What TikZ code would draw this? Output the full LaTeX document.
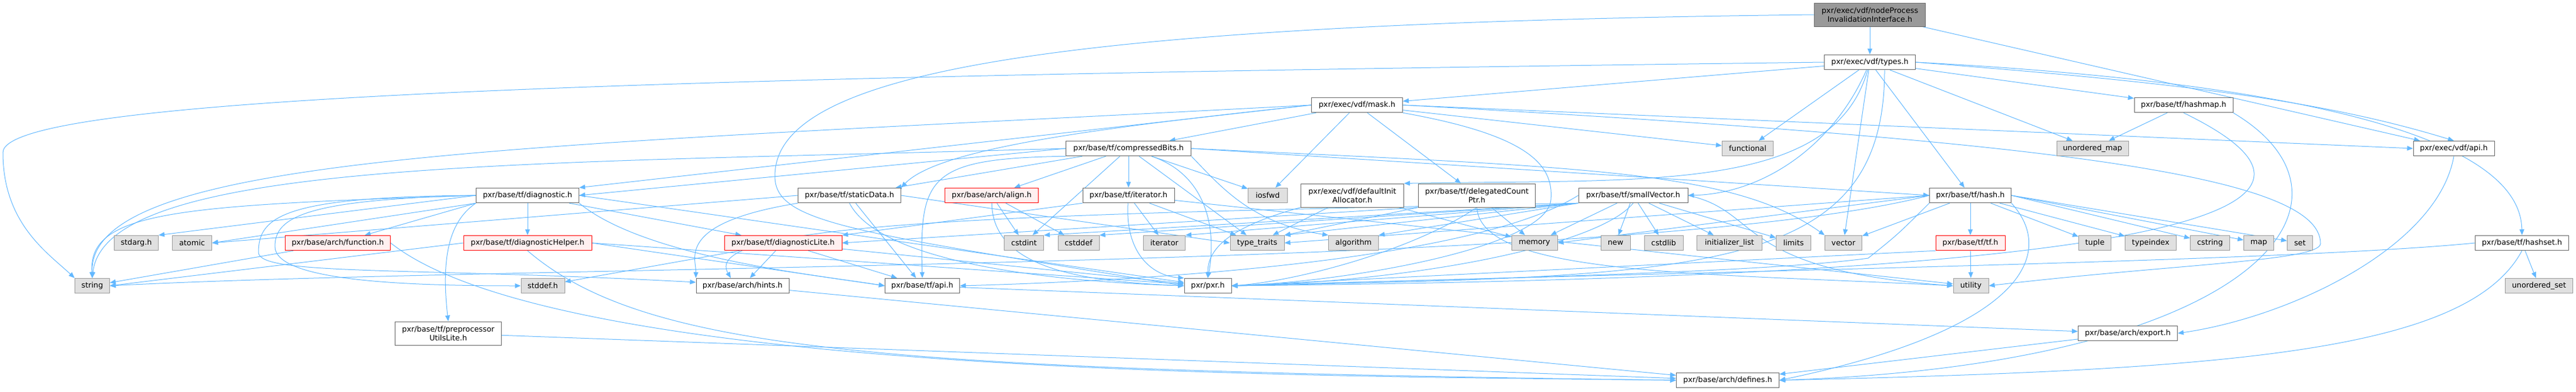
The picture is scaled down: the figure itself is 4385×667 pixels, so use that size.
\documentclass[tikz,border=0pt]{standalone}
\usepackage{fontspec}
\setmainfont{DejaVu Sans}
\usepackage{tikz}
\usetikzlibrary{arrows.meta, backgrounds}
\definecolor{edgeblue}{HTML}{63B8FF}
\definecolor{boxline}{HTML}{666666}
\definecolor{sysline}{HTML}{999999}
\definecolor{sysfill}{HTML}{E0E0E0}
\definecolor{truncline}{HTML}{FF0000}
\definecolor{truncfill}{HTML}{FFF0F0}
\definecolor{mainfill}{HTML}{999999}
\tikzset{dbox/.style={draw=boxline, line width=1pt, fill=white, inner sep=2pt, minimum height=25.5pt, align=center, font=\fontsize{12.8}{15}\selectfont}}
\tikzset{dsys/.style={dbox, draw=sysline, fill=sysfill}}
\tikzset{dtrunc/.style={dbox, draw=truncline, fill=truncfill}}
\tikzset{dtwo/.style={dbox, minimum height=40pt}}
\tikzset{dmain/.style={dtwo, fill=mainfill}}
\tikzset{arr/.style={draw=edgeblue, line width=1pt, -{Triangle[length=10pt,width=8pt]}}}

\begin{document}
\begin{tikzpicture}[x=1pt, y=-1pt]
	\useasboundingbox (0,0) rectangle (4385,667);
	% top rows
	\node[dmain, minimum width=189pt] (npi) at (3183,25) {pxr/exec/vdf/nodeProcess\\InvalidationInterface.h};
	\node[dbox, minimum width=155pt] (types) at (3183,106) {pxr/exec/vdf/types.h};
	\node[dbox, minimum width=155pt] (mask) at (2310,179) {pxr/exec/vdf/mask.h};
	\node[dbox, minimum width=168pt] (hashmap) at (3717,179) {pxr/base/tf/hashmap.h};
	\node[dbox, minimum width=213pt] (cbits) at (1921,253) {pxr/base/tf/compressedBits.h};
	\node[dsys, minimum width=87pt] (functional) at (2975,253) {functional};
	\node[dsys, minimum width=122pt] (umap) at (3562,253) {unordered\_map};
	\node[dbox, minimum width=138pt] (vdfapi) at (4177,253) {pxr/exec/vdf/api.h};
	% row of tf headers
	\node[dbox, minimum width=175pt] (diag) at (898,333) {pxr/base/tf/diagnostic.h};
	\node[dbox, minimum width=175pt] (sdata) at (1446,333) {pxr/base/tf/staticData.h};
	\node[dtrunc, minimum width=159pt] (align) at (1688,333) {pxr/base/arch/align.h};
	\node[dbox, minimum width=156pt] (iter) at (1921,333) {pxr/base/tf/iterator.h};
	\node[dsys, minimum width=67pt] (iosfwd) at (2158,333) {iosfwd};
	\node[dtwo, minimum width=175pt] (dalloc) at (2302,333) {pxr/exec/vdf/defaultInit\\Allocator.h};
	\node[dtwo, minimum width=199pt] (dcptr) at (2514,333) {pxr/base/tf/delegatedCount\\Ptr.h};
	\node[dbox, minimum width=186pt] (svec) at (2780,333) {pxr/base/tf/smallVector.h};
	\node[dbox, minimum width=139pt] (hash) at (3354,333) {pxr/base/tf/hash.h};
	% system headers
	\node[dsys, minimum width=75pt] (stdarg) at (232,414) {stdarg.h};
	\node[dsys, minimum width=67pt] (atomic) at (327,414) {atomic};
	\node[dtrunc, minimum width=179pt] (func) at (575,414) {pxr/base/arch/function.h};
	\node[dtrunc, minimum width=218pt] (dhelp) at (898,414) {pxr/base/tf/diagnosticHelper.h};
	\node[dtrunc, minimum width=200pt] (dlite) at (1333,414) {pxr/base/tf/diagnosticLite.h};
	\node[dsys, minimum width=67pt] (cstdint) at (1743,414) {cstdint};
	\node[dsys, minimum width=70pt] (cstddef) at (1836,414) {cstddef};
	\node[dsys, minimum width=71pt] (stditer) at (1982,414) {iterator};
	\node[dsys, minimum width=92pt] (ttraits) at (2140,414) {type\_traits};
	\node[dsys, minimum width=85pt] (algorithm) at (2304,414) {algorithm};
	\node[dsys, minimum width=78pt] (memory) at (2612,414) {memory};
	\node[dsys, minimum width=50pt] (stdnew) at (2750,414) {new};
	\node[dsys, minimum width=66pt] (cstdlib) at (2832,414) {cstdlib};
	\node[dsys, minimum width=111pt] (initlist) at (2944,414) {initializer\_list};
	\node[dsys, minimum width=59pt] (limits) at (3053,414) {limits};
	\node[dsys, minimum width=63pt] (vector) at (3138,414) {vector};
	\node[dtrunc, minimum width=118pt] (tfh) at (3354,414) {pxr/base/tf/tf.h};
	\node[dsys, minimum width=55pt] (tuple) at (3566,414) {tuple};
	\node[dsys, minimum width=87pt] (typeindex) at (3661,414) {typeindex};
	\node[dsys, minimum width=67pt] (cstring) at (3762,414) {cstring};
	\node[dsys, minimum width=51pt] (stdmap) at (3845,414) {map};
	\node[dsys, minimum width=43pt] (stdset) at (3915,414) {set};
	\node[dbox, minimum width=159pt] (hashset) at (4293,414) {pxr/base/tf/hashset.h};
	\node[dsys, minimum width=59pt] (str) at (157,487) {string};
	\node[dsys, minimum width=74pt] (stddef) at (924,487) {stddef.h};
	\node[dbox, minimum width=158pt] (hints) at (1264,487) {pxr/base/arch/hints.h};
	\node[dbox, minimum width=127pt] (tfapi) at (1570,487) {pxr/base/tf/api.h};
	\node[dbox, minimum width=80pt] (pxr) at (2056,487) {pxr/pxr.h};
	\node[dsys, minimum width=60pt] (utility) at (3355,487) {utility};
	\node[dsys, minimum width=115pt] (uset) at (4322,487) {unordered\_set};
	\node[dtwo, minimum width=181pt] (pputil) at (763,568) {pxr/base/tf/preprocessor\\UtilsLite.h};
	\node[dbox, minimum width=169pt] (archexport) at (3622,568) {pxr/base/arch/export.h};
	\node[dbox, minimum width=175pt] (defines) at (2941,648) {pxr/base/arch/defines.h};
	% bends of the long edges
	\coordinate (npibend) at (1319,300);
	\coordinate (lbend) at (5,260);
	\coordinate (maskbend) at (2640,340);
	\coordinate (rbend) at (3950,415);
	\coordinate (hashdip) at (3180,440);
	\coordinate (dloop) at (440,430);
	\coordinate (dloop2) at (468,420);

	\begin{scope}[on background layer]
	% nodeProcessInvalidationInterface.h
	\draw[arr] (npi) -- (types);
	\draw[arr] (npi) -- (vdfapi);
	\draw[arr] (npi.west) .. controls (1800,40) and (1319,120) .. (npibend) .. controls (1319,380) and (1450,395) .. (pxr.west);
	% types.h
	\draw[arr] (types) -- (mask);
	\draw[arr] (types) -- (hashmap);
	\draw[arr] (types) -- (hash);
	\draw[arr] (types) -- (functional);
	\draw[arr] (types) -- (umap);
	\draw[arr] (types) -- (vector);
	\draw[arr] (types.east) .. controls (3700,140) and (3950,170) .. (vdfapi.north);
	\draw[arr] (types.east) .. controls (3900,140) and (4290,230) .. (hashset.north);
	\draw[arr] (types) .. controls (3120,250) and (3000,330) .. (svec.east);
	\draw[arr] (types) .. controls (3120,330) and (2800,305) .. (dalloc.north east);
	\draw[arr] (types.west) .. controls (1200,130) and (5,160) .. (lbend) .. controls (5,380) and (80,430) .. (str.north west);
	\draw[arr] ([xshift=25pt]types.south) .. controls (3208,470) and (2900,470) .. (pxr.east);
	% mask.h
	\draw[arr] (mask) -- (cbits);
	\draw[arr] (mask) -- (dcptr);
	\draw[arr] (mask) -- (iosfwd);
	\draw[arr] (mask) -- (functional);
	\draw[arr] (mask.west) -- (diag.north east);
	\draw[arr] (mask.west) .. controls (1900,215) and (1600,250) .. (sdata.north east);
	\draw[arr] (mask.east) -- (vdfapi.west);
	\draw[arr] (mask.west) .. controls (900,250) and (150,260) .. (str.north);
	\draw[arr] (mask.south east) .. controls (2600,230) and (2645,280) .. (maskbend) .. controls (2635,420) and (2300,480) .. (pxr.east);
	\draw[arr] (mask.east) .. controls (3500,240) and (3950,300) .. (rbend) .. controls (3950,445) and (3700,450) .. (utility.east);
	% compressedBits.h
	\draw[arr] (cbits.west) -- (diag.east);
	\draw[arr] (cbits) -- (sdata);
	\draw[arr] (cbits) -- (align);
	\draw[arr] (cbits) -- (iter);
	\draw[arr] (cbits) -- (iosfwd);
	\draw[arr] (cbits) -- (cstdint);
	\draw[arr] (cbits) -- (ttraits);
	\draw[arr] (cbits.south east) .. controls (2080,320) and (2130,380) .. (algorithm.north west);
	\draw[arr] (cbits.south west) .. controls (1580,270) and (1565,300) .. (tfapi.north);
	\draw[arr] (cbits.east) -- (hash.west);
	\draw[arr] (cbits.east) .. controls (2700,285) and (2950,290) .. (vector.north west);
	\draw[arr] (cbits.west) .. controls (900,280) and (180,270) .. (str.north);
	\draw[arr] (cbits) .. controls (2060,300) and (2070,400) .. (pxr.north);
	% iterator.h
	\draw[arr] (iter.south west) -- (dlite.north east);
	\draw[arr] (iter) -- (stditer);
	\draw[arr] (iter) -- (ttraits);
	\draw[arr] (iter) .. controls (1915,430) and (1960,470) .. (pxr.north west);
	\draw[arr] (iter) -- (utility);
	% align.h
	\draw[arr] (align) -- (cstdint);
	\draw[arr] (align) -- (cstddef);
	\draw[arr] (align) .. controls (1690,460) and (1850,480) .. (pxr.west);
	% staticData.h
	\draw[arr] (sdata.south) .. controls (1500,450) and (1800,480) .. (pxr.west);
	\draw[arr] (sdata.east) -- (ttraits.west);
	\draw[arr] (sdata) -- (tfapi);
	\draw[arr] (sdata.south west) .. controls (1150,380) and (1185,440) .. (hints.north west);
	\draw[arr] (sdata.west) -- (atomic.east);
	% diagnostic.h
	\draw[arr] (diag) -- (dhelp);
	\draw[arr] (diag) -- (dlite);
	\draw[arr] (diag.south west) -- (func);
	\draw[arr] (diag.west) -- (stdarg.north east);
	\draw[arr] (diag.south west) -- (atomic.east);
	\draw[arr] (diag.west) .. controls (300,350) and (150,360) .. (str.north);
	\draw[arr] (diag.west) .. controls (480,335) and (440,370) .. (dloop) .. controls (440,470) and (700,455) .. ([yshift=6pt]hints.west);
	\draw[arr] (diag.west) .. controls (520,340) and (468,370) .. (dloop2) .. controls (468,480) and (700,487) .. (stddef.west);
	\draw[arr] (diag.south west) .. controls (760,380) and (752,450) .. (pputil.north);
	\draw[arr] (diag.south east) .. controls (1100,440) and (1400,470) .. (tfapi.west);
	\draw[arr] (diag.east) -- (pxr);
	% diagnosticHelper.h, diagnosticLite.h, function.h
	\draw[arr] (dhelp.south) .. controls (1100,600) and (1500,630) .. (defines.west);
	\draw[arr] (dhelp.west) -- (str.east);
	\draw[arr] (dhelp.east) -- (pxr);
	\draw[arr] (dhelp.east) -- (tfapi.west);
	\draw[arr] (dlite) -- (stddef);
	\draw[arr] (dlite) -- (hints);
	\draw[arr] (dlite) -- (pxr);
	\draw[arr] (dlite) -- (tfapi);
	\draw[arr] (func) -- (str);
	\draw[arr] (func.east) .. controls (950,640) and (2200,640) .. (defines.west);
	% arch headers
	\draw[arr] (pputil) -- (defines);
	\draw[arr] (hints) -- (defines);
	\draw[arr] (tfapi) -- (archexport);
	\draw[arr] (archexport) -- (defines);
	\draw[arr] (vdfapi.south) .. controls (4150,420) and (3900,540) .. (archexport.east);
	% defaultInitAllocator.h, delegatedCountPtr.h
	\draw[arr] (dalloc.south west) .. controls (2080,390) and (2056,430) .. (pxr.north);
	\draw[arr] (dalloc) -- (memory);
	\draw[arr] (dalloc) -- (ttraits);
	\draw[arr] (dcptr.south) .. controls (2400,430) and (2200,480) .. (pxr.east);
	\draw[arr] (dcptr) -- (memory);
	\draw[arr] (dcptr.south) .. controls (2520,470) and (2900,465) .. (utility.west);
	\draw[arr] (dcptr.south west) -- (ttraits.north east);
	\draw[arr] (dcptr.south west) -- (dlite.east);
	% smallVector.h
	\draw[arr] (svec) -- (memory);
	\draw[arr] (svec) -- (stdnew);
	\draw[arr] (svec) -- (cstdlib);
	\draw[arr] (svec) -- (initlist);
	\draw[arr] (svec) -- (limits);
	\draw[arr] (svec.south west) -- (algorithm.north east);
	\draw[arr] (svec.south west) -- (stditer.north east);
	\draw[arr] (svec.south west) -- (cstddef.north east);
	\draw[arr] (svec.south west) -- (cstdint.north east);
	\draw[arr] (svec.south west) -- (ttraits.north east);
	\draw[arr] (svec.south west) .. controls (1700,365) and (1190,380) .. ([xshift=-20pt]hints.north);
	\draw[arr] (svec.south) .. controls (2720,420) and (2400,480) .. (pxr.east);
	\draw[arr] (svec.west) .. controls (2500,450) and (1900,480) .. (tfapi.east);
	\draw[arr] (svec.east) .. controls (3000,360) and (2950,460) .. (utility.west);
	% hash.h
	\draw[arr] (hash) -- (tfh);
	\draw[arr] (hash) -- (vector);
	\draw[arr] (hash) -- (tuple);
	\draw[arr] (hash) -- (typeindex);
	\draw[arr] (hash.east) -- (cstring);
	\draw[arr] (hash.east) -- (stdmap);
	\draw[arr] (hash.east) -- (stdset);
	\draw[arr] (hash.south west) .. controls (3230,400) .. (hashdip) .. controls (3000,465) and (2500,475) .. (pxr.east);
	\draw[arr] (hash.south east) .. controls (3500,430) and (3450,560) .. (defines.east);
	\draw[arr] (hash.west) -- (memory.east);
	\draw[arr] (hash.west) .. controls (2800,460) and (900,450) .. (str.east);
	\draw[arr] (hash.west) -- (ttraits.east);
	\draw[arr] (tfh) -- (utility);
	\draw[arr] (tfh.south west) -- (pxr.east);
	% hashmap.h, hashset.h
	\draw[arr] (hashmap) -- (umap);
	\draw[arr] (hashmap.south) .. controls (4000,330) and (3900,470) .. (pxr.east);
	\draw[arr] (hashmap.south east) .. controls (4050,340) and (3850,620) .. (defines.east);
	\draw[arr] (hashset) -- (uset);
	\draw[arr] (hashset.west) .. controls (3900,445) and (3000,460) .. (pxr.east);
	\draw[arr] (hashset.south) .. controls (4200,600) and (3800,630) .. (defines.east);
	\end{scope}
\end{tikzpicture}
\end{document}
